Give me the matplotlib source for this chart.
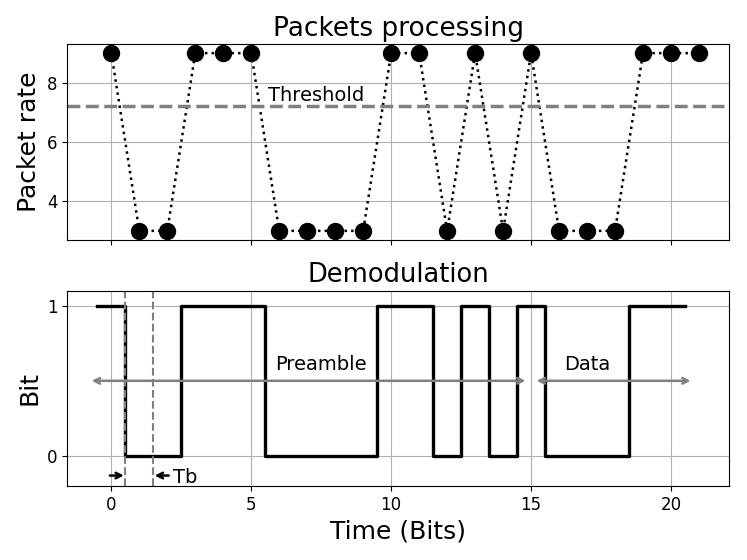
import numpy as np
import matplotlib.pyplot as plt

# packet rate per bit slot
t = list(range(22))
rate = [9, 3, 3, 9, 9, 9, 3, 3, 3, 3, 9, 9, 3, 9, 3, 9, 3, 3, 3, 9, 9, 9]
threshold = 7.2

# demodulated bits (first 21 slots)
bits = [1 if r > threshold else 0 for r in rate[:21]]
edges = np.arange(-0.5, len(bits) + 0.5, 1.0)

fig, (ax1, ax2) = plt.subplots(2, 1, sharex=True, figsize=(7.47, 5.6), dpi=100)
fig.subplots_adjust(left=0.09, right=0.976, top=0.921, bottom=0.132, hspace=0.26)

# haut
ax1.plot(t, rate, 'ko:', markersize=11.5, linewidth=1.8)
ax1.axhline(threshold, color='gray', linestyle='--', linewidth=2.5)
ax1.text(5.6, threshold + 0.05, "Threshold", fontsize=14, va='bottom')
ax1.set_title("Packets processing", fontsize=19)
ax1.set_ylabel("Packet rate", fontsize=18)
ax1.set_yticks([4, 6, 8])
ax1.grid(True)

# bas
ax2.step(edges, bits + [bits[-1]], where='post', color='k', linewidth=2.4)
ax2.axvline(0.5, color='gray', linestyle='--', linewidth=1.5)
ax2.axvline(1.5, color='gray', linestyle='--', linewidth=1.5)
ax2.annotate("", xy=(0.55, -0.13), xytext=(-0.15, -0.13),
             arrowprops=dict(arrowstyle='->', color='k', lw=1.8))
ax2.annotate("", xy=(1.45, -0.13), xytext=(2.15, -0.13),
             arrowprops=dict(arrowstyle='->', color='k', lw=1.8))
ax2.text(2.2, -0.14, "Tb", fontsize=14, va='center')
ax2.annotate("", xy=(-0.8, 0.5), xytext=(14.9, 0.5),
             arrowprops=dict(arrowstyle='<->', color='gray', lw=1.8))
ax2.annotate("", xy=(15.1, 0.5), xytext=(20.8, 0.5),
             arrowprops=dict(arrowstyle='<->', color='gray', lw=1.8))
ax2.text(7.5, 0.57, "Preamble", fontsize=14, ha='center')
ax2.text(17.0, 0.57, "Data", fontsize=14, ha='center')
ax2.set_title("Demodulation", fontsize=18.5)
ax2.set_ylabel("Bit", fontsize=18)
ax2.set_xlabel("Time (Bits)", fontsize=18)
ax2.set_yticks([0, 1])
ax2.set_ylim(-0.2, 1.1)
ax2.grid(True)

for ax in (ax1, ax2):
    ax.tick_params(labelsize=12)

fig.savefig("out.png")
